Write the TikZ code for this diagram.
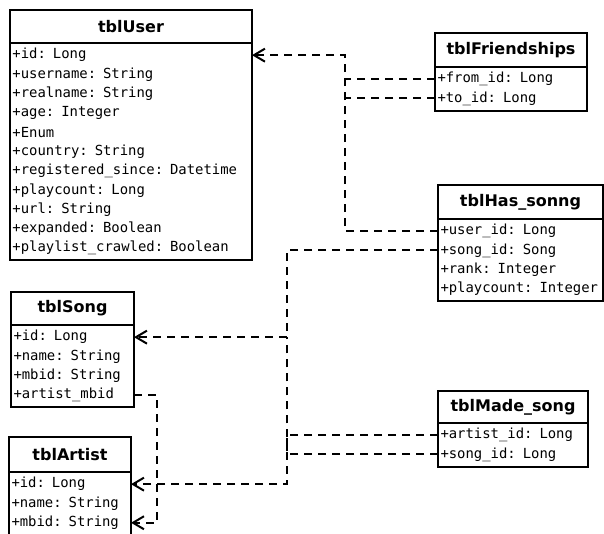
\documentclass[tikz,border=0pt]{standalone}
\usepackage{fontspec}
\usetikzlibrary{arrows.meta,calc}
\newfontfamily\tblhdrfont{DejaVu Sans}
\newfontfamily\tblmonofont{DejaVu Sans Mono}

\tikzset{
  tblline/.style={line width=2pt},
  tblhead/.style={draw, tblline, inner sep=0pt, outer sep=0pt,
    font=\tblhdrfont\bfseries\fontsize{16}{19}\selectfont},
  tblrow/.style={inner xsep=2.5pt, inner ysep=0pt, outer sep=0pt,
    minimum height=19.3pt, align=left,
    font=\tblmonofont\fontsize{13.9}{16}\selectfont},
  fk/.style={line width=2pt, dash pattern=on 8pt off 6pt},
  fkref/.style={fk, -{Straight Barb[length=11pt,width=13pt]}},
}

% #1 name, #2 top-left corner, #3 width, #4 header height,
% #5 number of rows, #6 title, #7 rows
\newcommand\dbtable[7]{%
  \node[tblhead, minimum width=#3pt, minimum height=#4pt, anchor=north west] (#1) at (#2) {#6};%
  \pgfmathsetmacro\tblinnerwidth{#3-5}%
  \foreach \rowtext [count=\i] in {#7} {%
    \node[tblrow, text width=\tblinnerwidth pt, anchor=north west] (#1-\i)
      at ($(#1.south west)+(0,{2.5+(\i-1)*19.3})$) {\rowtext};%
  }%
  \draw[tblline] (#1.south west) rectangle ++(#3,{5+#5*19.3});%
}

\begin{document}
\begin{tikzpicture}[x=1pt, y=-1pt]
  \useasboundingbox (0,0) rectangle (604,533);
  \fill[white] (0,0) rectangle (604,533);

  % tables
  \dbtable{user}{10,10}{242}{33}{11}{tblUser}{%
    +id: Long, +username: String, +realname: String, +age: Integer, +Enum,
    +country: String, +registered\_since: Datetime, +playcount: Long,
    +url: String, +expanded: Boolean, +playlist\_crawled: Boolean}
  \dbtable{friend}{435,33}{152}{34}{2}{tblFriendships}{%
    +from\_id: Long, +to\_id: Long}
  \dbtable{has}{438,185}{165}{34}{4}{tblHas\_sonng}{%
    +user\_id: Long, +song\_id: Song, +rank: Integer, +playcount: Integer}
  \dbtable{song}{11,292}{123}{33}{4}{tblSong}{%
    +id: Long, +name: String, +mbid: String, +artist\_mbid}
  \dbtable{artist}{9,437}{122}{35}{3}{tblArtist}{%
    +id: Long, +name: String, +mbid: String}
  \dbtable{made}{438,391}{150}{32}{2}{tblMade\_song}{%
    +artist\_id: Long, +song\_id: Long}

  % vertical buses of the foreign keys
  \path (user-1.east) ++(93,0) coordinate (busA);
  \path (song-1.east) ++(153,0) coordinate (busB);

  % references to tblUser
  \draw[fkref] (has-1.west) -| (busA) -- (user-1.east);
  \draw[fk] (friend-1.west) -- (friend-1.west -| busA);
  \draw[fk] (friend-2.west) -- (friend-2.west -| busA);

  % references to tblSong and tblArtist
  \draw[fkref] (has-2.west) -| (busB) -- (song-1.east);
  \draw[fkref] (made-1.west) -| (busB |- artist-1.east) -- (artist-1.east);
  \draw[fk] (made-2.west) -| (busB);
  \draw[fkref] (song-4.east) -- ++(23,0) |- (artist-3.east);
\end{tikzpicture}
\end{document}
